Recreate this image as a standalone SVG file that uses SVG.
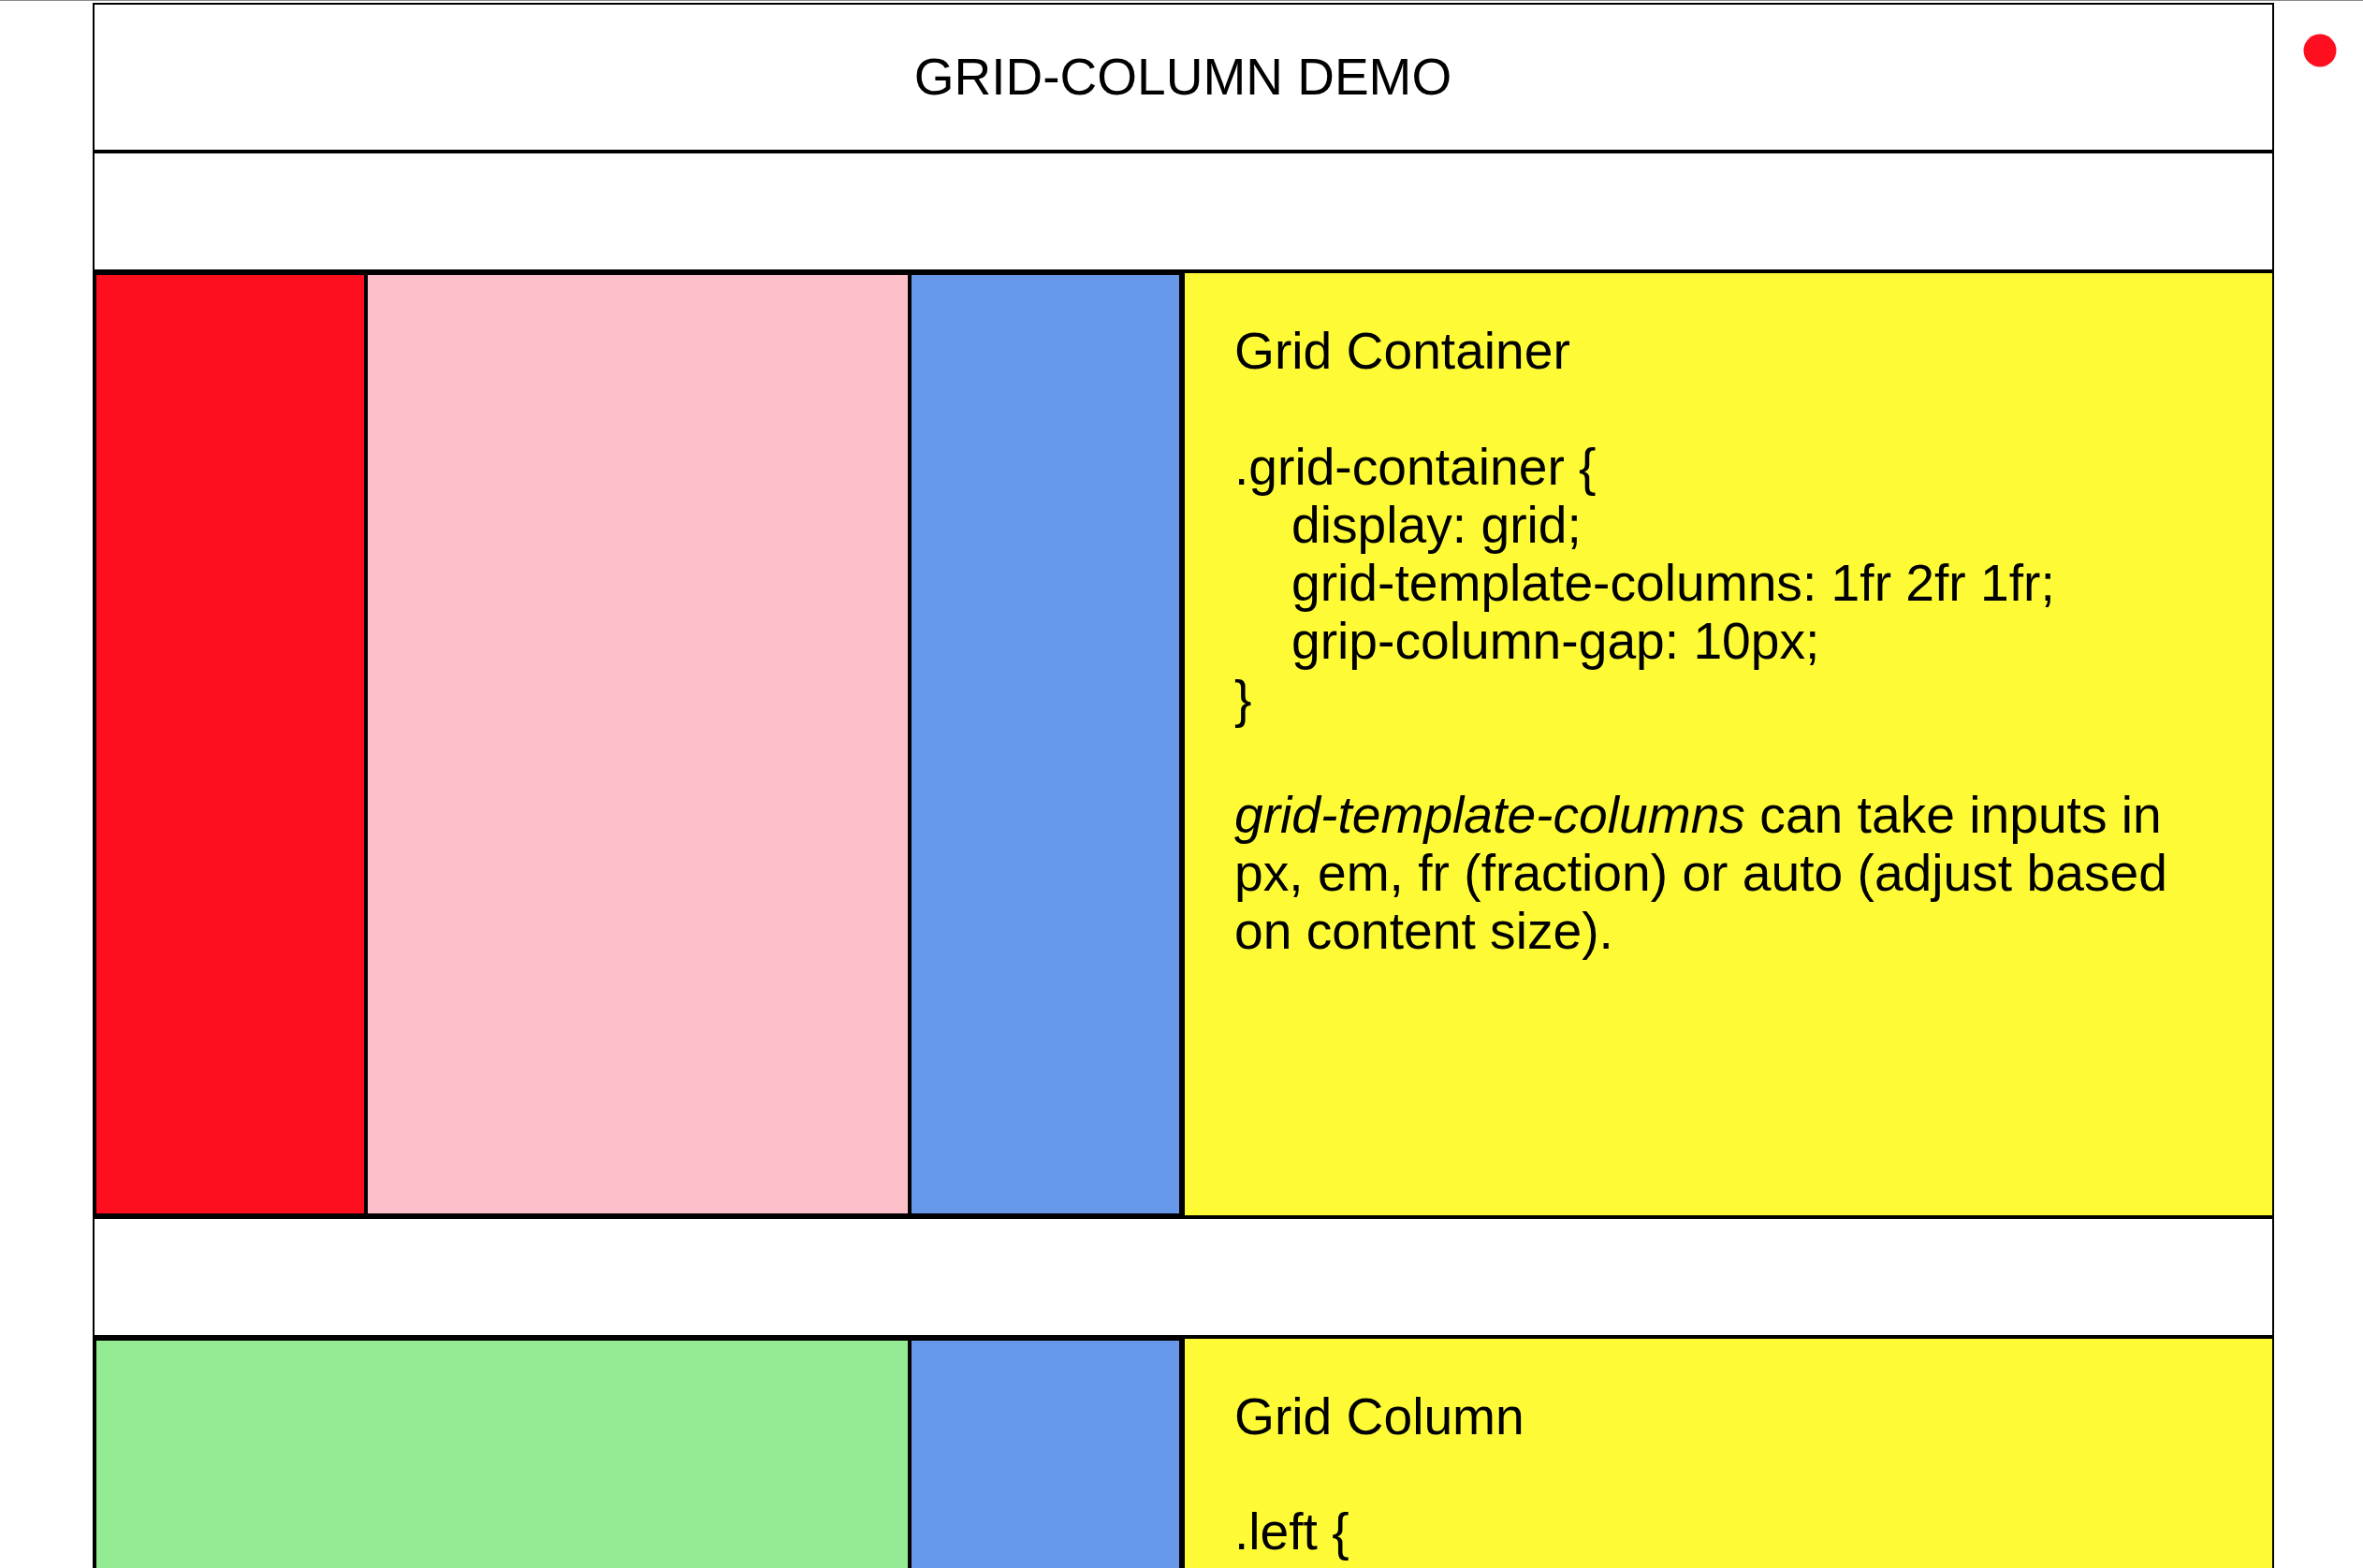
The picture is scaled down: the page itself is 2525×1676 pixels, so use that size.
<svg xmlns="http://www.w3.org/2000/svg" width="2525" height="1676" viewBox="0 0 2525 1676">
  <style>
    .frame { fill: #ffffff; stroke: #000000; stroke-width: 2; }
    .cell { stroke: #000000; stroke-width: 4; }
    .note { stroke: #000000; stroke-width: 2; fill: #fefb36; }
    .red { fill: #fe0f1f; }
    .pink { fill: #fdc0cb; }
    .blue { fill: #6898e9; }
    .green { fill: #95eb94; }
    text { font-family: "Liberation Sans", Arial, sans-serif; fill: #000000; }
    .title { font-size: 55px; text-anchor: middle; }
    .body { font-size: 55.2px; }
    .em { font-style: italic; }
  </style>

  <!-- page edge -->
  <line x1="0" y1="0.5" x2="2525" y2="0.5" stroke="#8a8a8a" stroke-width="1"/>

  <!-- heading bar -->
  <g id="header">
    <rect class="frame" x="100" y="4" width="2329" height="157"/>
    <text class="title" x="1264" y="101">GRID-COLUMN DEMO</text>
  </g>

  <g id="spacer-top">
    <rect class="frame" x="100" y="163" width="2329" height="126"/>
  </g>

  <!-- first grid row: 1fr 2fr 1fr + explanation -->
  <g id="row1-col1">
    <rect class="cell red" x="101" y="292" width="290" height="1007"/>
  </g>
  <g id="row1-col2">
    <rect class="cell pink" x="391" y="292" width="581" height="1007"/>
  </g>
  <g id="row1-col3">
    <rect class="cell blue" x="972" y="292" width="290" height="1007"/>
  </g>
  <g id="grid-container-note">
    <rect class="note" x="1265" y="291" width="1164" height="1009"/>
    <text class="body" x="1319" y="394">Grid Container</text>
    <text class="body" x="1319" y="518">.grid-container {</text>
    <text class="body" x="1380" y="580">display: grid;</text>
    <text class="body" x="1380" y="642">grid-template-columns: 1fr 2fr 1fr;</text>
    <text class="body" x="1380" y="704">grip-column-gap: 10px;</text>
    <text class="body" x="1319" y="766">}</text>
    <text class="body" x="1319" y="890"><tspan class="em">grid-template-columns</tspan> can take inputs in</text>
    <text class="body" x="1319" y="952">px, em, fr (fraction) or auto (adjust based</text>
    <text class="body" x="1319" y="1014">on content size).</text>
  </g>

  <g id="spacer-middle">
    <rect class="frame" x="100" y="1302" width="2329" height="126"/>
  </g>

  <!-- second grid row: spanning column -->
  <g id="row2-left">
    <rect class="cell green" x="101" y="1431" width="871" height="400"/>
  </g>
  <g id="row2-col3">
    <rect class="cell blue" x="972" y="1431" width="290" height="400"/>
  </g>
  <g id="grid-column-note">
    <rect class="note" x="1265" y="1430" width="1164" height="400"/>
    <text class="body" x="1319" y="1533">Grid Column</text>
    <text class="body" x="1319" y="1656">.left {</text>
  </g>

  <!-- marker dot -->
  <g id="dot">
    <circle cx="2479" cy="54" r="17.5" fill="#fe0f1f"/>
  </g>

  <g id="connectors"/>
</svg>
